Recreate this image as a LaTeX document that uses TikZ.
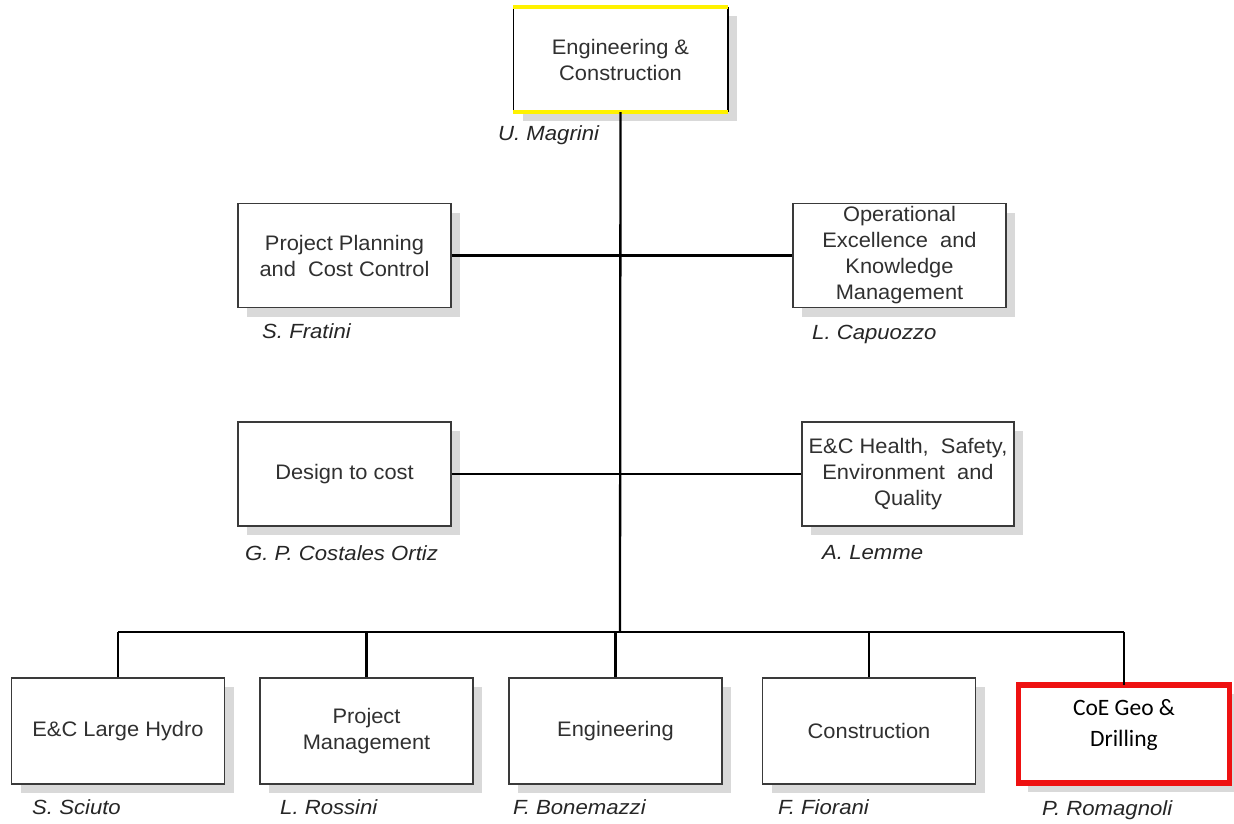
\documentclass[tikz,border=0pt]{standalone}
\usepackage{fontspec}
\setmainfont{Liberation Sans}
\newfontfamily\boxfont[FakeStretch=1.04]{Liberation Sans}
\newfontfamily\namefont[FakeStretch=1.08]{Liberation Sans}
\newfontfamily\calibri{Carlito}
\usetikzlibrary{shadows}
\definecolor{boxtext}{HTML}{303030}
\definecolor{boxline}{HTML}{3A3A3A}
\definecolor{shadowgray}{HTML}{D9D9D9}
\definecolor{hilite}{HTML}{FFF200}
\definecolor{alert}{HTML}{EE1111}
\tikzset{
  unitbox/.style={rectangle, fill=white, minimum width=213pt, minimum height=104pt,
    inner sep=0pt, align=center, text=boxtext,
    font=\boxfont\fontsize{21}{26}\selectfont,
    general shadow={fill=shadowgray, shadow xshift=9pt, shadow yshift=-9pt}},
  framed/.style={unitbox, draw=boxline, line width=1.4pt},
  person/.style={anchor=base west, inner sep=0pt, text=black!85,
    font=\namefont\fontsize{20.5}{24}\selectfont\itshape},
  link/.style={line width=2.7pt, black},
  drop/.style={line width=2.3pt, black}
}
\begin{document}
\begin{tikzpicture}[x=1pt, y=-1pt]
\useasboundingbox[fill=white] (0,0) rectangle (1234,823);

% head of the division
\node[unitbox, minimum width=214pt, minimum height=105pt] (ec) at (620.5,59.5) {Engineering \&\\Construction};
\draw[black, line width=1.6pt] (ec.north west) -- (ec.south west) (ec.north east) -- (ec.south east);
\draw[hilite, line width=3.5pt] (ec.north west) -- (ec.north east) (ec.south west) -- (ec.south east);
\node[person] (n-ec) at (498,140) {U. Magrini};

% staff functions
\node[framed] (ppc) at (344.5,255.5) {Project Planning\\and\ \ Cost Control};
\node[person] (n-ppc) at (262,338) {S. Fratini};
\node[framed, minimum height=104pt] (oekm) at (899.5,255.5) {Operational\\Excellence\ \ and\\Knowledge\\Management};
\node[person] (n-oekm) at (812,339) {L. Capuozzo};

\node[framed] (dtc) at (344.5,474) {Design to cost};
\node[person] (n-dtc) at (245,560) {G. P. Costales Ortiz};
\node[framed, minimum width=212pt] (hseq) at (908,474) {E\&C Health,\ \ Safety,\\Environment\ \ and\\Quality};
\node[person] (n-hseq) at (822,559) {A. Lemme};

% line units
\node[framed, minimum height=106pt] (lh) at (118,731) {E\&C Large Hydro};
\node[person] (n-lh) at (32,814) {S. Sciuto};
\node[framed, minimum height=106pt] (pm) at (366.5,731) {Project\\Management};
\node[person] (n-pm) at (280,814) {L. Rossini};
\node[framed, minimum height=106pt] (eng) at (615.5,731) {Engineering};
\node[person] (n-eng) at (513,814) {F. Bonemazzi};
\node[framed, minimum height=106pt] (con) at (869,731) {Construction};
\node[person] (n-con) at (778,814) {F. Fiorani};
\node[unitbox, draw=alert, line width=5.5pt, minimum width=211pt, minimum height=98pt] (coe) at (1124,734) {};
\node[inner sep=0pt, align=center, font=\calibri\fontsize{23.5}{31}\selectfont, text=black]
  (coe-t) at (1124,725) {CoE Geo \&\\Drilling};
\node[person] (n-coe) at (1042,815) {P. Romagnoli};

% reporting lines
\coordinate (hub) at (620,632);
\draw[drop] (ec.south) -- (hub);
\draw[link] (ppc.east) -- (oekm.west);
\draw[link] (dtc.east) -- (hseq.west);
\draw[link] (hub -| lh.north) -- (hub -| coe.north);
\foreach \u in {lh,pm,eng,con}
  \draw[drop] (hub -| \u.north) -- (\u.north);
\draw[drop] (hub -| coe.north) -- ([yshift=-2.75pt]coe.north);
\end{tikzpicture}
\end{document}
